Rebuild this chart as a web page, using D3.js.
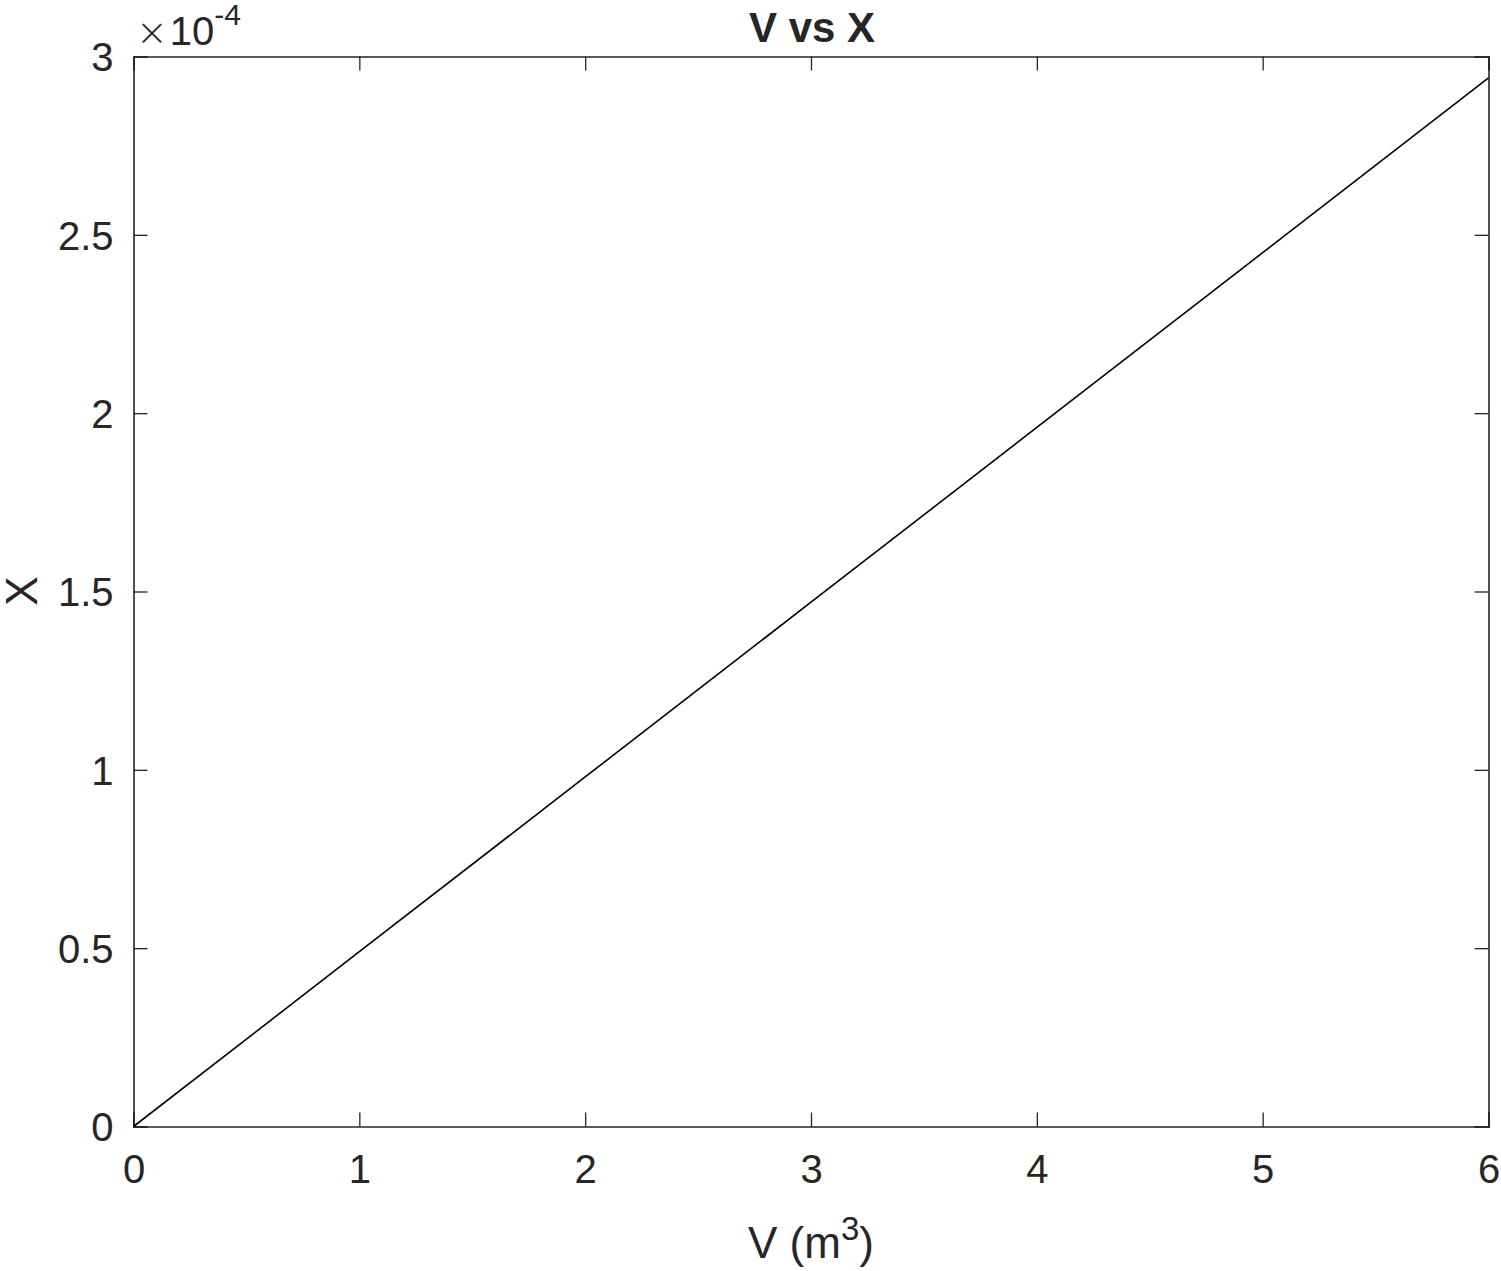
<!DOCTYPE html>
<html><head><meta charset="utf-8">
<script src="https://cdn.jsdelivr.net/npm/d3@7"></script>
<style>body{margin:0;background:#fff}text{font-family:"Liberation Sans",Arial,Helvetica,sans-serif;fill:#262626}</style>
</head><body><svg id="c" width="1501" height="1271"></svg>
<script>
const vValues = [0, 1, 2, 3, 4, 5, 6];
const xValues = [0, 0.49e-4, 0.98e-4, 1.47e-4, 1.96e-4, 2.45e-4, 2.94e-4];
const xTicks = [0, 1, 2, 3, 4, 5, 6];
const yTicks = [0, 0.5e-4, 1e-4, 1.5e-4, 2e-4, 2.5e-4, 3e-4];
const yTickLabels = ["0", "0.5", "1", "1.5", "2", "2.5", "3"];

const svg = d3.select("#c");
const L = 133.5, R = 1488.5, T = 56.5, B = 1126.5;
const x = d3.scaleLinear().domain([0, 6]).range([L, R]);
const y = d3.scaleLinear().domain([0, 3e-4]).range([B, T]);
const col = "#262626", tl = 14;

const gx = svg.append("g").attr("transform", `translate(0,${B})`)
  .call(d3.axisBottom(x).tickValues(xTicks).tickSize(-tl).tickPadding(28).tickFormat(d3.format("d")));
const gxt = svg.append("g").attr("transform", `translate(0,${T})`)
  .call(d3.axisTop(x).tickValues(xTicks).tickSize(-tl).tickFormat(""));
const gy = svg.append("g").attr("transform", `translate(${L},0)`)
  .call(d3.axisLeft(y).tickValues(yTicks).tickSize(-tl).tickPadding(20).tickFormat((d,i)=>yTickLabels[i]));
const gyr = svg.append("g").attr("transform", `translate(${R},0)`)
  .call(d3.axisRight(y).tickValues(yTicks).tickSize(-tl).tickFormat(""));
[gx, gxt, gy, gyr].forEach(g => {
  g.select(".domain").attr("stroke", col).attr("stroke-width", 1.6);
  g.selectAll(".tick line").attr("stroke", col).attr("stroke-width", 1.3);
  g.selectAll("text").style("font-size", "40px").attr("fill", col);
});
gy.selectAll(".tick text").attr("dy", "0.36em");
gx.selectAll(".tick text").attr("dy", "0.71em");

svg.append("path").datum(vValues.map((v,i)=>[v, xValues[i]]))
  .attr("d", d3.line().x(d=>x(d[0])).y(d=>y(d[1])))
  .attr("fill", "none").attr("stroke", "#000").attr("stroke-width", 1.6);

svg.append("text").attr("x", 812).attr("y", 42).attr("text-anchor", "middle")
  .style("font-size", "42px").style("font-weight", "bold").attr("fill", "#000").text("V vs X");

const xl = svg.append("text").attr("x", 811).attr("y", 1258).attr("text-anchor", "middle").style("font-size", "44px");
xl.append("tspan").text("V (m");
xl.append("tspan").attr("dy", -18).style("font-size", "33px").text("3");
xl.append("tspan").attr("dy", 18).text(")");

svg.append("text").attr("transform", "translate(37,591) rotate(-90)").attr("text-anchor", "middle")
  .style("font-size", "44px").text("X");

const ex = svg.append("text").attr("x", 136).attr("y", 45).style("font-size", "40px");
ex.append("tspan").style("font-size", "38px").style("font-family", "DejaVu Sans").style("font-weight", "200").text("\u00d7");
ex.append("tspan").attr("dx", 2).text("10");
ex.append("tspan").attr("dy", -20).style("font-size", "30px").text("-4");
</script></body></html>
